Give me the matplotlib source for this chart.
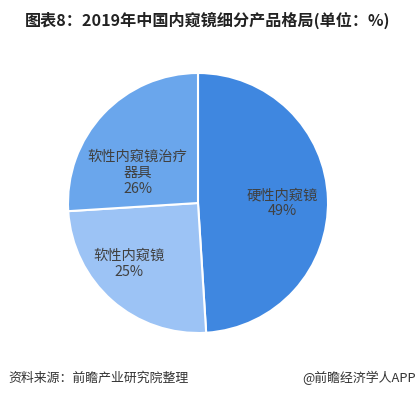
import matplotlib
matplotlib.use("Agg")
import matplotlib.pyplot as plt
import numpy as np

plt.rcParams['font.family'] = ['Noto Sans CJK SC', 'DejaVu Sans']

categories = ["硬性内窥镜", "软性内窥镜", "软性内窥镜治疗\n器具"]
values = [49, 25, 26]
colors = ["#3f87e0", "#9cc3f5", "#6aa6ec"]
label_dist = [0.65, 0.71, 0.52]
label_angle_shift = [-2, -7.4, 16.6]

fig = plt.figure(figsize=(4.2, 3.97), dpi=100)
fig.patch.set_facecolor("white")

cx, cy, r = 198, 203, 130
W, H = 420, 397
ax = fig.add_axes([(cx - r) / W, 1 - (cy + r) / H, 2 * r / W, 2 * r / H])
wedges, _ = ax.pie(values, colors=colors, startangle=90, counterclock=False,
                   radius=1, wedgeprops=dict(edgecolor="white", linewidth=1.5))
ax.set_xlim(-1, 1)
ax.set_ylim(-1, 1)
ax.set_aspect("equal")
ax.axis("off")

for w, name, v, d, s in zip(wedges, categories, values, label_dist, label_angle_shift):
    ang = np.deg2rad((w.theta1 + w.theta2) / 2 + s)
    x, y = d * np.cos(ang), d * np.sin(ang)
    ax.text(x, y, f"{name}\n{v}%", ha="center", va="center", fontsize=10.3,
            color="#404040", linespacing=1.2)

fig.text(25 / W, 1 - 20 / H, "图表8：2019年中国内窥镜细分产品格局(单位：%)",
         fontsize=11.6, fontweight="bold", color="#222222", ha="left", va="center")
fig.text(8 / W, 1 - 378 / H, "资料来源：前瞻产业研究院整理", fontsize=9.3,
         color="#333333", ha="left", va="center")
fig.text(416 / W, 1 - 378 / H, "@前瞻经济学人APP", fontsize=9.3,
         color="#333333", ha="right", va="center")

fig.savefig("out.png", dpi=100, facecolor="white")
